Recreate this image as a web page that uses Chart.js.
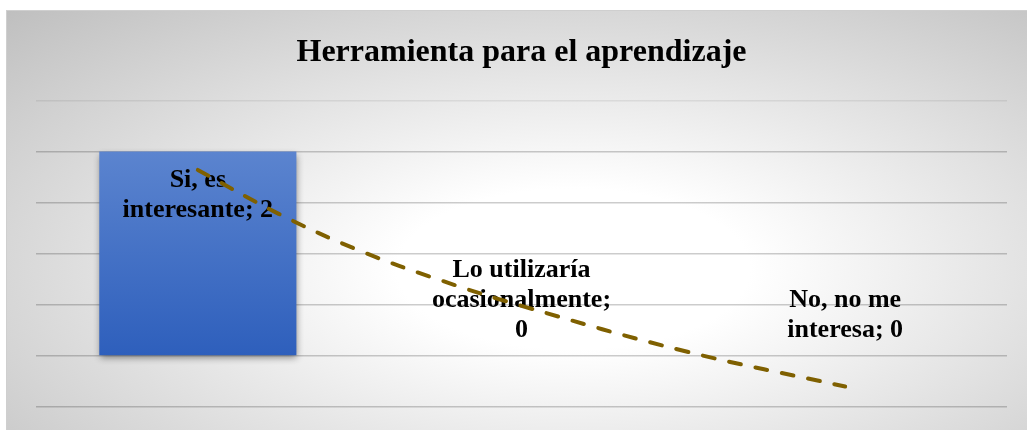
<!DOCTYPE html>
<html>
<head>
<meta charset="utf-8">
<script src="https://cdn.jsdelivr.net/npm/chart.js@4.4.1/dist/chart.umd.min.js"></script>
<style>
    body { margin: 0; width: 1027px; height: 430px; overflow: hidden; background: #fff; }
    #box {
        position: absolute; left: 6px; top: 10px; width: 1030px; height: 430px;
        border-top: 1px solid #cfcfcf; border-left: 1px solid #cfcfcf;
        background: radial-gradient(ellipse farthest-corner at 55% 60%, #ffffff 0%, #ffffff 22%, #bfbfbf 100%);
    }
    #wrap { position: absolute; left: 0; top: 0; width: 1027px; height: 430px; }
</style>
</head>
<body>
<div id="box"></div>
<div id="wrap"><canvas id="chart"></canvas></div>
<script>
const categories = ['Si, es interesante', 'Lo utilizaría ocasionalmente', 'No, no me interesa'];
const respuestas = [2, 0, 0];

// logarithmic trend line at these category positions (1 = first category)
const trendPos = [1, 1.25, 1.5, 1.75, 2, 2.5, 3];
const trendVals = [1.82, 1.39, 1.03, 0.74, 0.49, 0.05, -0.30];

const yTicks = [-0.5, 0, 0.5, 1, 1.5, 2, 2.5];

const LABEL_FONT = 'bold 26px "Liberation Serif", "Times New Roman", serif';

function wrapText(ctx, text, maxW) {
    const words = text.split(' ');
    const lines = [];
    let cur = '';
    words.forEach(w => {
        const test = cur ? cur + ' ' + w : w;
        if (cur && ctx.measureText(test).width > maxW) {
            lines.push(cur);
            cur = w;
        } else {
            cur = test;
        }
    });
    if (cur) lines.push(cur);
    return lines;
}

const barLabels = {
    id: 'barLabels',
    beforeDatasetDraw(chart, args) {
        if (args.index !== 1) return;
        const ctx = chart.ctx;
        ctx.save();
        ctx.shadowColor = 'rgba(0,0,0,0.45)';
        ctx.shadowBlur = 7;
        ctx.shadowOffsetX = 1;
        ctx.shadowOffsetY = 3;
    },
    afterDatasetDraw(chart, args) {
        if (args.index !== 1) return;
        const ctx = chart.ctx;
        ctx.restore();
        ctx.save();
        ctx.font = LABEL_FONT;
        ctx.fillStyle = '#000';
        ctx.textAlign = 'center';
        ctx.textBaseline = 'middle';
        const lh = 30;
        args.meta.data.forEach((bar, i) => {
            const lines = wrapText(ctx, `${categories[i]}; ${respuestas[i]}`, 185);
            let y0;
            if (bar.base - bar.y > lines.length * lh + 20) {
                y0 = bar.y + 29;
            } else {
                y0 = bar.base - 26 - (lines.length - 1) * lh;
            }
            lines.forEach((ln, k) => ctx.fillText(ln, bar.x, y0 + k * lh));
        });
        ctx.restore();
    }
};

const ctx = document.getElementById('chart').getContext('2d');

function barGradient(context) {
    const area = context.chart.chartArea;
    if (!area) return '#4472c4';
    const y = context.chart.scales.y;
    const g = context.chart.ctx.createLinearGradient(0, y.getPixelForValue(2), 0, y.getPixelForValue(0));
    g.addColorStop(0, '#5b84cf');
    g.addColorStop(1, '#2e5fbc');
    return g;
}

new Chart(ctx, {
    type: 'bar',
    data: {
        datasets: [{
            type: 'line',
            label: 'Log. (Herramienta para el aprendizaje)',
            data: trendPos.map((p, i) => ({ x: p, y: trendVals[i] })),
            borderColor: '#7f6000',
            borderWidth: 4,
            borderDash: [12, 15],
            borderCapStyle: 'round',
            tension: 0.4,
            pointRadius: 0,
            fill: false,
            order: 1
        }, {
            type: 'bar',
            label: 'Herramienta para el aprendizaje',
            data: categories.map((c, i) => ({ x: i + 1, y: respuestas[i] })),
            backgroundColor: barGradient,
            categoryPercentage: 1,
            barPercentage: 0.609,
            order: 2
        }]
    },
    options: {
        responsive: true,
        maintainAspectRatio: false,
        animation: false,
        layout: { padding: { left: 36, right: 20, top: 0, bottom: 23 } },
        plugins: {
            legend: { display: false },
            tooltip: { enabled: false },
            title: {
                display: true,
                text: 'Herramienta para el aprendizaje',
                color: '#000',
                font: { family: '"Liberation Serif", "Times New Roman", serif', size: 32, weight: 'bold' },
                padding: { top: 34, bottom: 28 }
            }
        },
        scales: {
            x: {
                type: 'linear',
                offset: false,
                grid: { offset: false },
                display: false,
                min: 0.5,
                max: 3.5,
                afterBuildTicks: scale => { scale.ticks = categories.map((c, i) => ({ value: i + 1 })); }
            },
            y: {
                min: yTicks[0],
                max: yTicks[yTicks.length - 1],
                afterBuildTicks: scale => { scale.ticks = yTicks.map(v => ({ value: v })); },
                border: { display: false },
                ticks: { display: false },
                grid: {
                    drawTicks: false,
                    lineWidth: 1.5,
                    color: c => c.index === yTicks.length - 1 ? 'rgba(0,0,0,0.07)' : 'rgba(0,0,0,0.2)'
                }
            }
        }
    },
    plugins: [barLabels]
});
</script>
</body>
</html>
